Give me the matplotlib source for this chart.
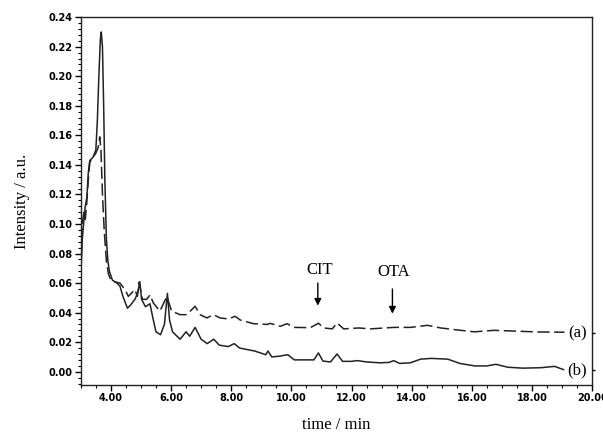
import matplotlib.pyplot as plt
from matplotlib.ticker import MultipleLocator, FormatStrFormatter

# time (min) / intensity (a.u.)
time_b = [3.0, 3.05, 3.1, 3.15, 3.2, 3.25, 3.3, 3.4, 3.5, 3.55, 3.6, 3.65, 3.68, 3.72,
          3.76, 3.8, 3.85, 3.9, 3.95, 4.05, 4.2, 4.3, 4.4, 4.55, 4.65, 4.8, 4.9, 4.96,
          5.02, 5.15, 5.3, 5.4, 5.5, 5.65, 5.78, 5.88, 5.95, 6.05, 6.3, 6.5, 6.62, 6.8,
          7.0, 7.2, 7.42, 7.6, 7.9, 8.1, 8.28, 8.78, 9.15, 9.22, 9.35, 9.6, 9.88, 10.1,
          10.75, 10.9, 11.05, 11.3, 11.52, 11.7, 12.0, 12.2, 12.5, 12.95, 13.25, 13.4,
          13.6, 13.95, 14.3, 14.65, 15.2, 15.6, 16.1, 16.5, 16.8, 17.2, 17.7, 18.3,
          18.75, 19.05]
inten_b = [0.066, 0.09, 0.102, 0.112, 0.118, 0.135, 0.143, 0.145, 0.15, 0.17, 0.2,
           0.225, 0.23, 0.22, 0.18, 0.13, 0.09, 0.075, 0.068, 0.062, 0.06, 0.058,
           0.051, 0.043, 0.045, 0.049, 0.054, 0.061, 0.049, 0.044, 0.046, 0.036,
           0.027, 0.025, 0.032, 0.053, 0.035, 0.027, 0.022, 0.027, 0.024, 0.030,
           0.022, 0.019, 0.022, 0.018, 0.017, 0.019, 0.016, 0.014, 0.0115, 0.014,
           0.010, 0.0105, 0.0115, 0.008, 0.008, 0.0127, 0.0072, 0.0066, 0.012, 0.007,
           0.007, 0.0075, 0.0066, 0.006, 0.0063, 0.0075, 0.0056, 0.006, 0.0085,
           0.009, 0.0085, 0.0056, 0.0039, 0.0039, 0.005, 0.003, 0.0024, 0.0027,
           0.0036, 0.0014]

time_a = [3.0, 3.05, 3.1, 3.15, 3.2, 3.25, 3.3, 3.4, 3.5, 3.58, 3.63, 3.67, 3.72,
          3.78, 3.85, 3.92, 4.0, 4.1, 4.3, 4.47, 4.58, 4.8, 4.88, 4.94, 5.05, 5.19,
          5.3, 5.41, 5.63, 5.86, 6.02, 6.3, 6.52, 6.8, 6.97, 7.19, 7.41, 7.63, 7.91,
          8.13, 8.3, 8.74, 9.19, 9.3, 9.63, 9.86, 10.08, 10.63, 10.9, 11.08, 11.36,
          11.52, 11.74, 12.24, 12.63, 13.41, 13.97, 14.52, 14.97, 15.63, 16.08,
          16.74, 17.41, 18.19, 19.08]
inten_a = [0.066, 0.1, 0.108, 0.103, 0.115, 0.13, 0.142, 0.145, 0.148, 0.152, 0.159,
           0.15, 0.12, 0.095, 0.075, 0.066, 0.062, 0.061, 0.060, 0.0556, 0.051,
           0.0556, 0.051, 0.0605, 0.049, 0.049, 0.052, 0.0466, 0.041, 0.051, 0.041,
           0.0386, 0.0386, 0.0443, 0.0386, 0.0364, 0.0386, 0.0364, 0.0357, 0.0375,
           0.035, 0.0325, 0.032, 0.0327, 0.0307, 0.0325, 0.0300, 0.0298, 0.0328,
           0.0296, 0.029, 0.033, 0.029, 0.0296, 0.029, 0.030, 0.030, 0.0314, 0.0296,
           0.028, 0.027, 0.028, 0.0275, 0.0269, 0.0267]

peak_names = ["CIT", "OTA"]
peak_times = [10.88, 13.36]
peak_arrow_top = [0.060, 0.056]
peak_arrow_tip = [0.0447, 0.0393]
peak_text_y = [0.069, 0.0675]

trace_labels = ["(a)", "(b)"]
trace_label_y = [0.0262, 0.0009]

line_col = "#222222"

fig = plt.figure(figsize=(6.03, 4.42), dpi=100)
ax = fig.add_axes([0.134, 0.129, 0.848, 0.832])

ax.plot(time_a, inten_a, color=line_col, lw=1.1, dashes=(8, 3))
ax.plot(time_b, inten_b, color=line_col, lw=1.1)

ax.set_xlim(3, 20)
ax.set_ylim(-0.009, 0.24)

ax.xaxis.set_minor_locator(MultipleLocator(0.5))
ax.yaxis.set_major_locator(MultipleLocator(0.02))
ax.yaxis.set_minor_locator(MultipleLocator(0.004))
ax.xaxis.set_major_formatter(FormatStrFormatter("%.2f"))
ax.yaxis.set_major_formatter(FormatStrFormatter("%.2f"))
ax.set_xticks([t for t in range(4, 21, 2)])
ax.tick_params(which="major", direction="out", length=4, width=1, labelsize=7, pad=2)
ax.tick_params(which="minor", direction="out", length=2, width=0.8)
for lab in ax.get_xticklabels() + ax.get_yticklabels():
    lab.set_fontweight("bold")
    lab.set_family("DejaVu Sans")

for s in ax.spines.values():
    s.set_linewidth(1.0)
    s.set_color("#222222")

ax.set_xlabel("time / min", family="Liberation Serif", fontsize=12, labelpad=10)
ax.set_ylabel("Intensity / a.u.", family="Liberation Serif", fontsize=12, labelpad=13)

for name, t, y0, y1, ty in zip(peak_names, peak_times, peak_arrow_top, peak_arrow_tip, peak_text_y):
    ax.annotate("", xy=(t, y1), xytext=(t, y0),
                arrowprops=dict(arrowstyle="-|>", color="black", lw=1.0,
                                mutation_scale=10, shrinkA=0, shrinkB=0))
    ax.text(t + 0.05, ty, name, family="Liberation Serif", fontsize=12,
            ha="center", va="center")

for lab, y in zip(trace_labels, trace_label_y):
    ax.text(19.5, y, lab, family="Liberation Serif", fontsize=12,
            ha="center", va="center")

# small marks on the right spine at each trace label
ax2 = ax.twinx()
ax2.set_ylim(ax.get_ylim())
ax2.set_yticks(trace_label_y)
ax2.set_yticklabels([])
ax2.tick_params(direction="out", length=2, width=1)
for s in ax2.spines.values():
    s.set_visible(False)

fig.savefig("out.png", dpi=100)
